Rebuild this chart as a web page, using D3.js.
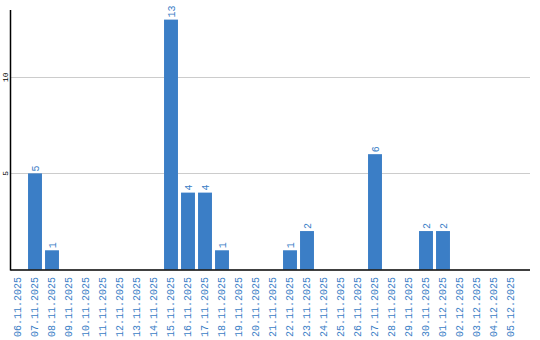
<!DOCTYPE html>
<html>
<head>
<meta charset="utf-8">
<script src="https://cdn.jsdelivr.net/npm/d3@7"></script>
<style>
  body { margin: 0; background: #fff; }
</style>
</head>
<body>
<svg id="chart" width="540" height="340"></svg>
<script>
let dates = ["06.11.2025", "07.11.2025", "08.11.2025", "09.11.2025", "10.11.2025",
  "11.11.2025", "12.11.2025", "13.11.2025", "14.11.2025", "15.11.2025",
  "16.11.2025", "17.11.2025", "18.11.2025", "19.11.2025", "20.11.2025",
  "21.11.2025", "22.11.2025", "23.11.2025", "24.11.2025", "25.11.2025",
  "26.11.2025", "27.11.2025", "28.11.2025", "29.11.2025", "30.11.2025",
  "01.12.2025", "02.12.2025", "03.12.2025", "04.12.2025", "05.12.2025"];
let counts = [0, 5, 1, 0, 0, 0, 0, 0, 0, 13, 4, 4, 1, 0, 0, 0, 1, 2, 0, 0, 0, 6, 0, 0, 2, 2, 0, 0, 0, 0];
let yTicks = [5, 10];

let barColor = "#3b7ec6";
let textColor = "#3b7ec6";
let gridColor = "#cccccc";
let monoFont = "Liberation Mono";

let plotLeft = 10.5;
let plotRight = 530;
let plotTop = 10;
let plotBottom = 269.5;

let rows = dates.map(function(d, i) { return {date: d, value: counts[i]}; });

let svg = d3.select("#chart");

let x = d3.scaleBand()
  .domain(dates)
  .range([9.5, 519.5])
  .paddingInner(0.18)
  .paddingOuter(0.09);

let y = d3.scaleLinear()
  .domain([0, 13.5])
  .range([plotBottom, plotTop]);

// gridlines
svg.selectAll(".grid")
  .data(yTicks)
  .enter()
  .append("line")
    .attr("x1", plotLeft)
    .attr("x2", plotRight)
    .attr("y1", function(d) { return Math.round(y(d)) + 0.5; })
    .attr("y2", function(d) { return Math.round(y(d)) + 0.5; })
    .style("stroke", gridColor)
    .style("stroke-width", "1px");

// bars
svg.selectAll(".bar")
  .data(rows)
  .enter()
  .append("rect")
    .attr("x", function(d) { return x(d.date); })
    .attr("y", function(d) { return y(d.value); })
    .attr("width", x.bandwidth())
    .attr("height", function(d) { return plotBottom - y(d.value); })
    .style("fill", barColor);

// value labels
svg.selectAll(".val")
  .data(rows.filter(function(d) { return d.value > 0; }))
  .enter()
  .append("text")
    .attr("transform", function(d) {
      return "translate(" + (x(d.date) + x.bandwidth() / 2) + "," + (y(d.value) - 2) + ") rotate(-90)";
    })
    .attr("dy", "0.35em")
    .text(function(d) { return d.value; })
    .style("fill", textColor)
    .style("font-family", monoFont)
    .style("font-size", "10px");

// y tick labels
svg.selectAll(".ytick")
  .data(yTicks)
  .enter()
  .append("text")
    .attr("transform", function(d) { return "translate(5," + y(d) + ") rotate(-90)"; })
    .attr("dy", "0.35em")
    .text(function(d) { return d; })
    .style("text-anchor", "middle")
    .style("fill", "#000")
    .style("font-family", monoFont)
    .style("font-size", "8px");

// x labels
svg.selectAll(".xlab")
  .data(dates)
  .enter()
  .append("text")
    .attr("transform", function(d) { return "translate(" + (x(d) + x.bandwidth() / 2 - 1) + ",277) rotate(-90)"; })
    .attr("dy", "0.35em")
    .text(function(d) { return d; })
    .style("text-anchor", "end")
    .style("fill", textColor)
    .style("font-family", monoFont)
    .style("font-size", "10px");

// axis lines
svg.append("line")
  .attr("x1", plotLeft).attr("x2", plotLeft)
  .attr("y1", plotTop).attr("y2", plotBottom + 1)
  .style("stroke", "#000")
  .style("stroke-width", "1.5px");
svg.append("line")
  .attr("x1", plotLeft).attr("x2", plotRight)
  .attr("y1", plotBottom + 0.5).attr("y2", plotBottom + 0.5)
  .style("stroke", "#000")
  .style("stroke-width", "1.5px");
</script>
</body>
</html>
